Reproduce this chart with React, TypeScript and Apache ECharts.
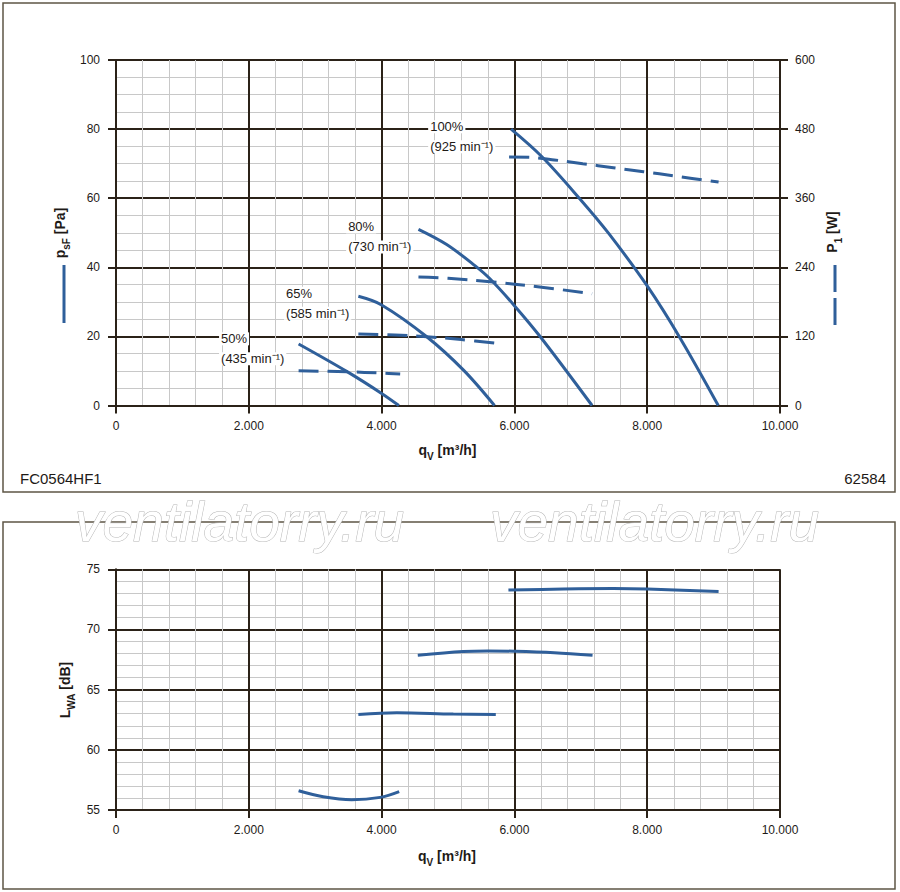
import { useEffect, useRef } from "react";
import * as echarts from "echarts";

// ---------- data ----------
// static pressure p_sF [Pa] vs air flow q_V [m³/h]
const psf100 = [[5950, 80], [6415, 72], [7000, 59.5], [7420, 49.8], [8000, 34.6], [8490, 19.7], [9070, 0]];
const psf80 = [[4555, 51.0], [4980, 46.6], [5410, 40.4], [5635, 36.6], [6000, 28.9], [6390, 19.9], [7170, 0]];
const psf65 = [[3650, 31.6], [4000, 29.1], [4680, 19.9], [5230, 10.3], [5700, 0]];
const psf50 = [[2750, 17.8], [3480, 9.8], [4000, 3.5], [4260, 0]];

// power input P1 [W]
const p1_100 = [[5920, 431.5], [6300, 430.5], [6600, 426.5], [7030, 420], [7490, 413], [7945, 406], [8420, 398.5], [9075, 388]];
const p1_80 = [[4555, 223], [5000, 221], [5635, 215], [6440, 205], [7170, 194]];
const p1_65 = [[3650, 124], [4200, 122.5], [4680, 119.5], [5200, 114.5], [5730, 108]];
const p1_50 = [[2750, 60.3], [3480, 58.5], [4000, 56.3], [4280, 54.8]];

// sound power level L_WA [dB]
const lwa100 = [[5910, 73.27], [6740, 73.36], [7490, 73.4], [8000, 73.36], [9075, 73.16]];
const lwa80 = [[4545, 67.86], [5230, 68.17], [5600, 68.22], [6000, 68.19], [6600, 68.07], [7177, 67.86]];
const lwa65 = [[3650, 62.94], [4230, 63.08], [5080, 62.97], [5720, 62.94]];
const lwa50 = [[2750, 56.6], [3120, 56.1], [3550, 55.85], [3980, 56.05], [4265, 56.53]];

// speed labels
const speedPct = ["100%", "80%", "65%", "50%"];
const speedRpm = [925, 730, 585, 435];
// label anchors in data units (q_V, p_sF)
const labelAnchors = [[4701, 77.8], [3466, 48.8], [2531, 29.6], [1552, 16.4]];

const modelName = "FC0564HF1";
const drawingNo = "62584";
const watermark = "ventilatorry.ru";

// ---------- styles ----------
const FONT = '"Liberation Sans", Arial, Helvetica, sans-serif';
const TEXT = "#1e1a17";
const DARK = "#2b2218";
const MINOR = "#c8c8c8";
const BLUE = "#2f5f9a";
const FRAME = "#5e5545";

const fmtQ = (v: number) => (v === 0 ? "0" : (v / 1000).toFixed(3));

function xAxisCfg(gridIndex: number) {
  return {
    type: "value",
    gridIndex,
    min: 0,
    max: 10000,
    interval: 2000,
    axisLine: { show: true, onZero: false, lineStyle: { color: DARK, width: 2 } },
    axisTick: { show: true, length: 8, lineStyle: { color: DARK, width: 2 } },
    axisLabel: { formatter: fmtQ, margin: 14, fontSize: 12, color: TEXT, fontFamily: FONT },
    splitLine: { show: true, lineStyle: { color: DARK, width: 2 } },
    minorTick: { show: false, splitNumber: 5 },
    minorSplitLine: { show: true, lineStyle: { color: MINOR, width: 1 } },
  };
}

function yAxisCfg(gridIndex: number, min: number, max: number, interval: number, minorSplit: number) {
  return {
    type: "value",
    gridIndex,
    min,
    max,
    interval,
    position: "left",
    axisLine: { show: true, onZero: false, lineStyle: { color: DARK, width: 2 } },
    axisTick: { show: true, length: 8, lineStyle: { color: DARK, width: 2 } },
    axisLabel: { margin: 16, fontSize: 12, color: TEXT, fontFamily: FONT },
    splitLine: { show: true, lineStyle: { color: DARK, width: 2 } },
    minorTick: { show: false, splitNumber: minorSplit },
    minorSplitLine: { show: true, lineStyle: { color: MINOR, width: 1 } },
  };
}

function curve(data: number[][], xAxisIndex: number, yAxisIndex: number, dashed: boolean) {
  return {
    type: "line",
    xAxisIndex,
    yAxisIndex,
    data,
    smooth: 0.35,
    showSymbol: false,
    symbol: "none",
    silent: true,
    z: 5,
    lineStyle: dashed
      ? { color: BLUE, width: 3, type: [20, 9] }
      : { color: BLUE, width: 3 },
  };
}

const subRich = {
  m: { fontSize: 14, fontWeight: "bold", fontFamily: FONT, color: TEXT, verticalAlign: "bottom", padding: [0, 0, 4, 0] },
  s: { fontSize: 10, fontWeight: "bold", fontFamily: FONT, color: TEXT, verticalAlign: "bottom" },
};

function titleText(x: number, y: number, text: string, rotated: boolean) {
  return {
    type: "text",
    x,
    y,
    rotation: rotated ? Math.PI / 2 : 0,
    z: 20,
    style: {
      text,
      rich: subRich,
      fontSize: 14,
      fontWeight: "bold",
      fontFamily: FONT,
      fill: TEXT,
      align: "center",
      verticalAlign: "middle",
    },
  };
}

const option = {
  animation: false,
  backgroundColor: "#ffffff",
  grid: [
    { left: 116, top: 60, width: 664, height: 345.5 },
    { left: 116, top: 569.3, width: 664, height: 240.7 },
  ],
  xAxis: [xAxisCfg(0), xAxisCfg(1)],
  yAxis: [
    yAxisCfg(0, 0, 100, 20, 4),
    {
      type: "value",
      gridIndex: 0,
      min: 0,
      max: 600,
      interval: 120,
      position: "right",
      axisLine: { show: true, onZero: false, lineStyle: { color: DARK, width: 2 } },
      axisTick: { show: true, length: 8, lineStyle: { color: DARK, width: 2 } },
      axisLabel: { margin: 15, fontSize: 12, color: TEXT, fontFamily: FONT },
      splitLine: { show: false },
    },
    yAxisCfg(1, 55, 75, 5, 5),
  ],
  series: [
    curve(psf100, 0, 0, false),
    curve(psf80, 0, 0, false),
    curve(psf65, 0, 0, false),
    curve(psf50, 0, 0, false),
    curve(p1_100, 0, 1, true),
    curve(p1_80, 0, 1, true),
    curve(p1_65, 0, 1, true),
    curve(p1_50, 0, 1, true),
    curve(lwa100, 1, 2, false),
    curve(lwa80, 1, 2, false),
    curve(lwa65, 1, 2, false),
    curve(lwa50, 1, 2, false),
    {
      type: "scatter",
      xAxisIndex: 0,
      yAxisIndex: 0,
      data: labelAnchors,
      symbolSize: 0,
      silent: true,
      z: 4,
      itemStyle: { color: "#000000", opacity: 1 },
      label: {
        show: true,
        position: "right",
        distance: 0,
        color: TEXT,
        opacity: 1,
        formatter: (p: any) => `{t|${speedPct[p.dataIndex]}}\n{t|(${speedRpm[p.dataIndex]} min⁻¹)}`,
        rich: {
          t: { fontSize: 13, fontFamily: FONT, color: TEXT, opacity: 1, backgroundColor: "#ffffff", padding: [0, 2], lineHeight: 20 },
        },
      },
    },
  ],
  graphic: [
    // frames
    { type: "rect", shape: { x: 3, y: 3, width: 892, height: 489 }, style: { fill: "none", stroke: FRAME, lineWidth: 1.5 }, z: 1 },
    { type: "rect", shape: { x: 3, y: 522, width: 892, height: 367 }, style: { fill: "none", stroke: FRAME, lineWidth: 1.5 }, z: 1 },
    // axis titles
    titleText(62, 233, "{m|p}{s|sF}{m| [Pa]}", true),
    titleText(834, 232, "{m|P}{s|1}{m| [W]}", true),
    titleText(447.5, 452, "{m|q}{s|V}{m| [m³/h]}", false),
    titleText(67, 690, "{m|L}{s|WA}{m| [dB]}", true),
    titleText(447, 858, "{m|q}{s|V}{m| [m³/h]}", false),
    // legend keys
    { type: "line", shape: { x1: 64, y1: 265, x2: 64, y2: 323 }, style: { stroke: BLUE, lineWidth: 3 }, z: 20 },
    { type: "line", shape: { x1: 835, y1: 265, x2: 835, y2: 328 }, style: { stroke: BLUE, lineWidth: 3, lineDash: [27, 6] }, z: 20 },
    // footnotes
    { type: "text", x: 20, y: 478.5, z: 20, style: { text: modelName, fontSize: 15, fontFamily: FONT, fill: TEXT, align: "left", verticalAlign: "middle" } },
    { type: "text", x: 886, y: 478.5, z: 20, style: { text: drawingNo, fontSize: 15, fontFamily: FONT, fill: TEXT, align: "right", verticalAlign: "middle" } },
    // watermarks
    { type: "text", x: 75, y: 522, z: 30, style: { text: watermark, fontSize: 55, fontStyle: "italic", fontFamily: FONT, fill: "#ffffff", stroke: "#b5b5b5", lineWidth: 1, align: "left", verticalAlign: "middle" } },
    { type: "text", x: 490, y: 522, z: 30, style: { text: watermark, fontSize: 55, fontStyle: "italic", fontFamily: FONT, fill: "#ffffff", stroke: "#b5b5b5", lineWidth: 1, align: "left", verticalAlign: "middle" } },
  ],
};

export default function App() {
  const ref = useRef<HTMLDivElement>(null);
  useEffect(() => {
    if (!ref.current) return;
    const chart = echarts.init(ref.current, null, { renderer: "svg" });
    chart.setOption(option as any);
    return () => chart.dispose();
  }, []);
  return (
    <div
      ref={ref}
      style={{ position: "fixed", left: 0, top: 0, width: 900, height: 892, background: "#fff" }}
    />
  );
}
